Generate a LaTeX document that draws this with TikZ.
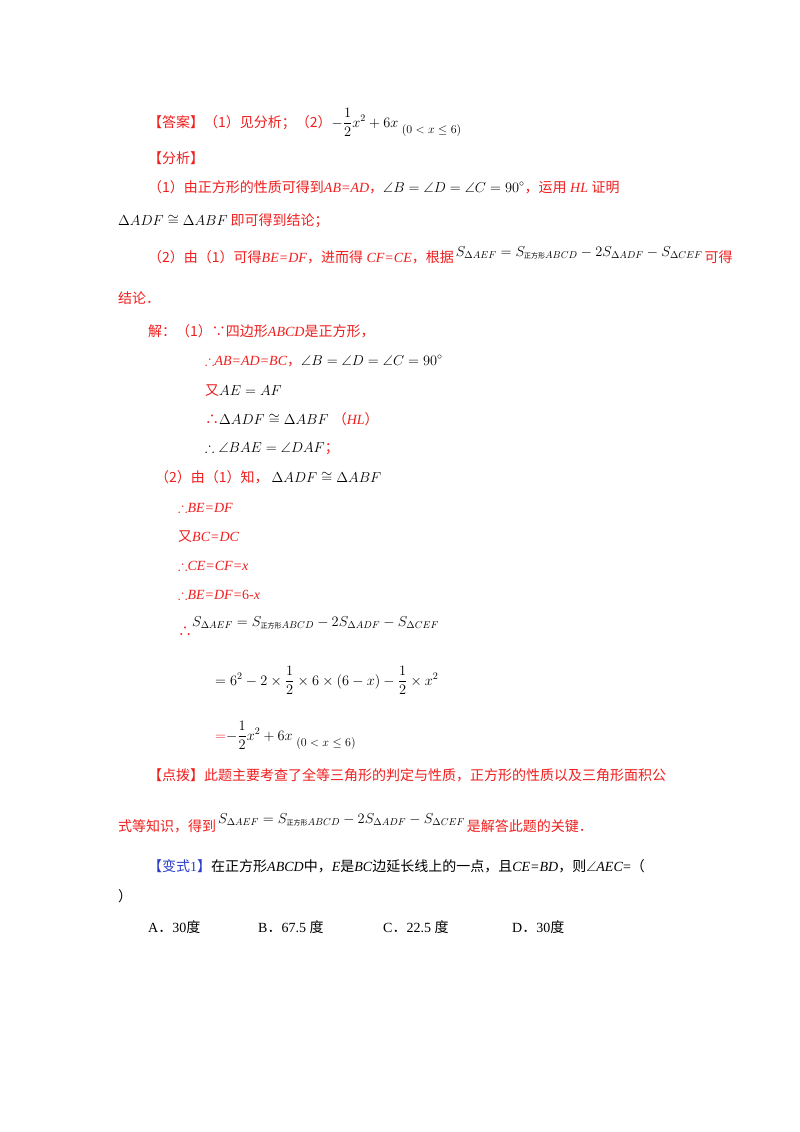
\documentclass[tikz,border=0pt]{standalone}
\usepackage{amsmath}
\usepackage{amssymb}
\usepackage{fontspec}
\setmainfont{Liberation Serif}
\newfontfamily\cjk{Noto Sans CJK SC}
\definecolor{rd}{RGB}{240,30,30}
\definecolor{bl}{RGB}{40,60,200}
\newcommand{\zh}[1]{{\cjk #1}}
\newcommand{\zf}{\text{\fontsize{7}{7}\selectfont\cjk 正方形}}
\newcommand{\rng}{\raisebox{-6pt}{\fontsize{12}{12}\selectfont$(0<x\le 6)$}}
\begin{document}
\begin{tikzpicture}[x=1pt,y=-1pt,
  ln/.style={anchor=base west,inner sep=0pt,font=\fontsize{14}{16}\selectfont},
  r/.style={text=rd}]
\useasboundingbox[fill=white] (0,0) rectangle (800,1132);
\node[ln,r] (l1) at (148,127) {\zh{【答案】（1）见分析；（2）}\textcolor{black}{$-\dfrac{1}{2}x^2+6x$ \rng}};
\node[ln,r] (l2) at (148,163) {\zh{【分析】}};
\node[ln,r] (l3) at (148,192) {\zh{（1）由正方形的性质可得到}\textit{AB=AD}\zh{，}\textcolor{black}{$\angle B=\angle D=\angle C=90^\circ$}\zh{，运用} \textit{HL} \zh{证明}};
\node[ln,r] (l4) at (118,225) {\textcolor{black}{$\Delta ADF\cong\Delta ABF$}\hspace{3pt}\zh{即可得到结论；}};
\node[ln,r] (l5) at (148,262) {\zh{（2）由（1）可得}\textit{BE=DF}\zh{，进而得} \textit{CF=CE}\zh{，根据}\hspace{2pt}\textcolor{black}{\raisebox{6pt}{$S_{\Delta AEF}=S_{\zf ABCD}-2S_{\Delta ADF}-S_{\Delta CEF}$}}\hspace{2pt}\zh{可得}};
\node[ln,r] (l6) at (118,303) {\zh{结论．}};
\node[ln,r] (s1) at (148,336) {\zh{解：（1）∵四边形}\textit{ABCD}\zh{是正方形，}};
\node[ln,r] (s2) at (205,365) {$\therefore$\textit{AB=AD=BC}\zh{，}\textcolor{black}{$\angle B=\angle D=\angle C=90^\circ$}};
\node[ln,r] (s3) at (205,395) {\zh{又}\textcolor{black}{$AE=AF$}};
\node[ln,r] (s4) at (205,424) {\zh{∴}\textcolor{black}{$\Delta ADF\cong\Delta ABF$}\hspace{4pt}\zh{（}\textit{HL}\zh{）}};
\node[ln,r] (s5) at (205,452) {\textcolor{black}{$\therefore\angle BAE=\angle DAF$}\zh{；}};
\node[ln,r] (s6) at (155,482) {\zh{（2）由（1）知，}\hspace{3pt}\textcolor{black}{$\Delta ADF\cong\Delta ABF$}};
\node[ln,r] (s7) at (178,512) {$\therefore$\textit{BE=DF}};
\node[ln,r] (s8) at (178,541) {\zh{又}\textit{BC=DC}};
\node[ln,r] (s9) at (178,570) {$\therefore$\textit{CE=CF=x}};
\node[ln,r] (s10) at (178,599) {$\therefore$\textit{BE=DF=}6-\textit{x}};
\node[ln,r] (s11) at (178,636) {\zh{∴}\textcolor{black}{\raisebox{10pt}{$S_{\Delta AEF}=S_{\zf ABCD}-2S_{\Delta ADF}-S_{\Delta CEF}$}}};
\node[ln] (s12) at (215,685) {$=6^2-2\times\dfrac12\times6\times(6-x)-\dfrac12\times x^2$};
\node[ln] (s13) at (215,740) {\textcolor{rd}{$=$}$-\dfrac12x^2+6x$ \rng};
\node[ln,r] (d1) at (148,780) {\zh{【点拨】此题主要考查了全等三角形的判定与性质，正方形的性质以及三角形面积公}};
\node[ln,r] (d2) at (118,831) {\zh{式等知识，得到}\hspace{2pt}\textcolor{black}{\raisebox{8pt}{$S_{\Delta AEF}=S_{\zf ABCD}-2S_{\Delta ADF}-S_{\Delta CEF}$}}\hspace{2pt}\zh{是解答此题的关键．}};
\node[ln] (v1) at (148,871) {\textcolor{bl}{\zh{【变式}1\zh{】}}\zh{在正方形}\textit{ABCD}\zh{中，}\textit{E}\zh{是}\textit{BC}\zh{边延长线上的一点，且}\textit{CE=BD}\zh{，则}$\angle$\textit{AEC}=\zh{（}};
\node[ln] (v2) at (118,901) {\zh{）}};
\node[ln] (oa) at (148,932) {A\zh{．}30\zh{度}};
\node[ln] (ob) at (258,932) {B\zh{．}67.5 \zh{度}};
\node[ln] (oc) at (383,932) {C\zh{．}22.5 \zh{度}};
\node[ln] (od) at (512,932) {D\zh{．}30\zh{度}};
\end{tikzpicture}
\end{document}
